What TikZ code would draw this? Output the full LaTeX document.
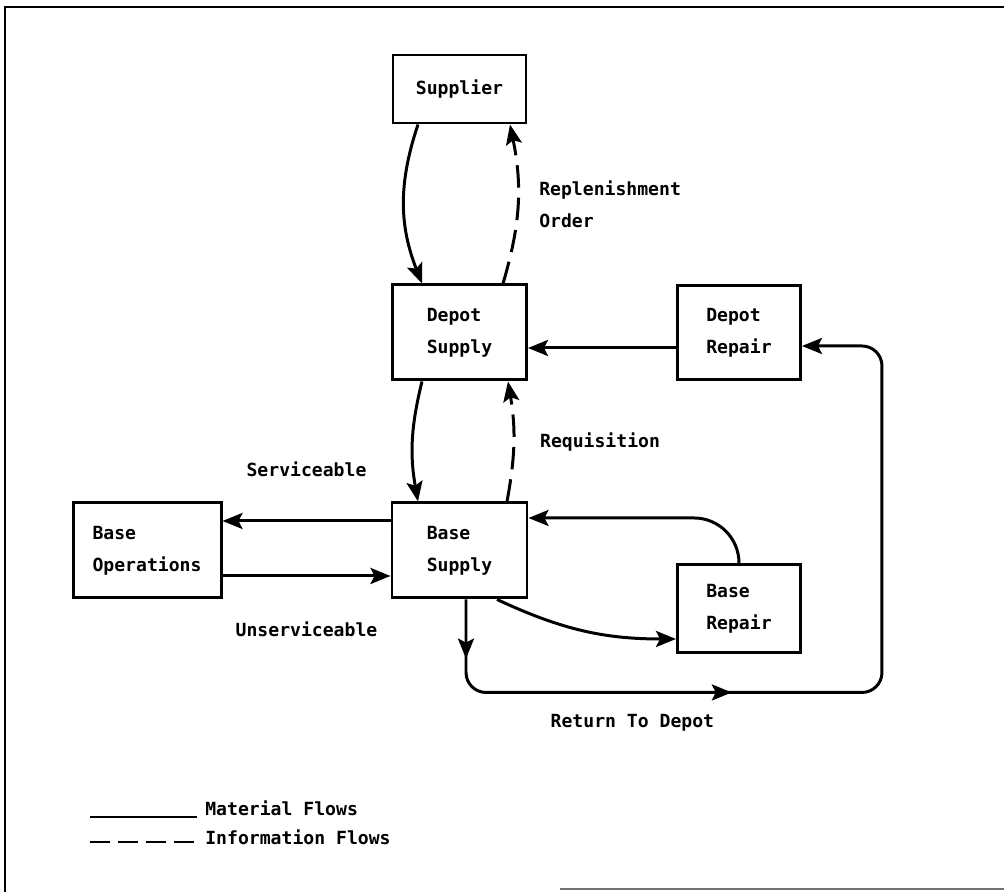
\documentclass[tikz,border=0pt]{standalone}
\usepackage{fontspec}
\setmonofont{DejaVu Sans Mono}
\usepackage{tikz}
\usetikzlibrary{arrows.meta,positioning,decorations.markings}
\tikzset{
    every picture/.style={
        font=\ttfamily\bfseries\fontsize{10.3pt}{18.2pt}\selectfont,
        >=Stealth
    },
    % Tip and line styles
    flowtip/.tip={Stealth[length=0.4cm,width=0.32cm,inset=0.08cm]},
    unitbox/.style={rectangle,draw,line width=1.7pt,align=left,inner sep=0pt},
    flow/.style={-flowtip,line width=1.7pt},
    info/.style={flow,dash pattern=on 0.45cm off 0.2cm},
    lbl/.style={inner sep=0pt,align=left}
}

\begin{document}
\begin{tikzpicture}[node distance=2.4cm,
    returnflow/.style={flow,rounded corners=0.4cm,postaction={decorate},
      decoration={markings,
        mark=at position 0.065 with {\arrow{flowtip}},
        mark=at position 0.385 with {\arrow{flowtip}}}}
]
  \useasboundingbox (0,0) rectangle (20.08,-17.84);

  % Page frame
  \draw[line width=1.7pt] (20.08,-0.14) -- (0.1,-0.14) -- (0.1,-17.84);
  \draw[line width=1pt,black!55] (11.2,-17.78) -- (20.08,-17.78);

  % Supply chain units
  \node[unitbox,minimum width=2.66cm,minimum height=1.36cm] (supplier) at (9.19,-1.78) {Supplier};
  \node[unitbox,minimum width=2.68cm,minimum height=1.9cm,below=3.18cm of supplier] (depsupply) {Depot\\Supply};
  \node[unitbox,minimum width=2.46cm,minimum height=1.88cm,right=2.96cm of depsupply] (deprepair) {Depot\\Repair};
  \node[unitbox,minimum width=2.7cm,minimum height=1.9cm,below=2.4cm of depsupply] (basesupply) {Base\\Supply};
  \node[unitbox,minimum width=2.96cm,minimum height=1.9cm,left=3.36cm of basesupply] (baseops) {Base\\Operations};
  \node[unitbox,minimum width=2.46cm,minimum height=1.76cm,below=3.65cm of deprepair] (baserepair) {Base\\Repair};
  \coordinate[below right=0.76cm and 1.6cm of baserepair.south east] (rtcorner);

  % Material flows
  \draw[flow] ([xshift=-0.83cm]supplier.south) to[bend right=20] ([xshift=-0.75cm]depsupply.north);
  \draw[flow] ([xshift=-0.75cm]depsupply.south) to[bend right=12] ([xshift=-0.83cm]basesupply.north);
  \draw[flow] ([yshift=-0.31cm]deprepair.west) -- ([yshift=-0.31cm]depsupply.east);
  \draw[flow] ([yshift=0.59cm]basesupply.west) -- node[lbl,above=0.86cm]{Serviceable} ([yshift=0.59cm]baseops.east);
  \draw[flow] ([yshift=-0.51cm]baseops.east) -- node[lbl,below=0.88cm]{Unserviceable} ([yshift=-0.51cm]basesupply.west);
  \draw[flow] ([xshift=0.75cm]basesupply.south) to[out=-25,in=180] ([yshift=-0.6cm]baserepair.west);
  \draw[flow,rounded corners=0.9cm] (baserepair.north) |- ([yshift=0.65cm]basesupply.east);
  \draw[returnflow] ([xshift=0.13cm]basesupply.south) |- node[lbl,pos=0.7,below=0.4cm]{Return To Depot} (rtcorner) |- ([yshift=-0.27cm]deprepair.east);

  % Information flows
  \draw[info] ([xshift=0.87cm]depsupply.north) to[bend right=14] node[lbl,right=0.4cm]{Replenishment\\Order} ([xshift=1.01cm]supplier.south);
  \draw[info] ([xshift=0.95cm]basesupply.north) to[bend right=10] node[lbl,right=0.5cm]{Requisition} ([xshift=0.97cm]depsupply.south);

  % Legend
  \node[lbl,anchor=west] (matlegend) at (4.1,-16.16) {Material Flows};
  \node[lbl,anchor=west] (infolegend) at (4.1,-16.74) {Information Flows};
  \coordinate (matstart) at (1.8,-16.34);
  \coordinate (infostart) at (1.8,-16.84);
  \draw[line width=1.7pt] (matstart) -- ([xshift=-0.16cm]matstart -| matlegend.west);
  \draw[line width=1.7pt,dash pattern=on 0.4cm off 0.16cm] (infostart) -- ([xshift=-0.16cm]infostart -| infolegend.west);
\end{tikzpicture}
\end{document}
